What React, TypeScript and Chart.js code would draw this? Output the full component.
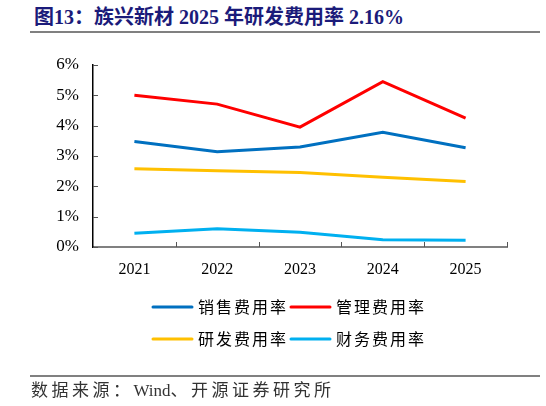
import React, { useEffect, useRef } from "react";
import { Chart, registerables } from "chart.js";

Chart.register(...registerables);

const categories = ["2021", "2022", "2023", "2024", "2025"];
const salesRate = [3.48, 3.14, 3.30, 3.78, 3.27];
const adminRate = [5.0, 4.71, 3.95, 5.45, 4.25];
const rdRate = [2.58, 2.51, 2.46, 2.30, 2.16];
const financeRate = [0.45, 0.60, 0.49, 0.24, 0.22];
const seriesNames = ["销售费用率", "管理费用率", "研发费用率", "财务费用率"];
const yTicks = [0, 1, 2, 3, 4, 5, 6];

const titleText = "图13：族兴新材 2025 年研发费用率 2.16%";
const sourceParts = ["数据来源：", "Wind", "、开源证券研究所"];

const serif = '"Liberation Serif", "Times New Roman", "Noto Sans CJK SC", serif';
const cjk = '"Noto Sans CJK SC", "Liberation Serif", serif';

const innerTicks = {
  id: "innerTicks",
  afterDatasetsDraw(chart: any) {
    const { ctx, chartArea, scales } = chart;
    ctx.save();
    ctx.strokeStyle = "#555";
    ctx.lineWidth = 1;
    const y = scales.y;
    y.ticks.forEach((t: any) => {
      const py = Math.round(y.getPixelForValue(t.value)) + 0.5;
      ctx.beginPath();
      ctx.moveTo(chartArea.left, py);
      ctx.lineTo(chartArea.left + 5, py);
      ctx.stroke();
    });
    const n = categories.length;
    const step = (chartArea.right - chartArea.left) / n;
    for (let i = 1; i <= n; i++) {
      const px = Math.round(chartArea.left + step * i) + 0.5;
      ctx.beginPath();
      ctx.moveTo(px, chartArea.bottom);
      ctx.lineTo(px, chartArea.bottom - 5);
      ctx.stroke();
    }
    ctx.restore();
  },
};

const customLegend = {
  id: "customLegend",
  afterDraw(chart: any) {
    const { ctx, chartArea } = chart;
    const ds = chart.data.datasets;
    const rows = [chartArea.bottom + 60, chartArea.bottom + 92];
    const cols = [chartArea.left + 60, chartArea.left + 198];
    ctx.save();
    ctx.font = `16px ${cjk}`;
    ctx.textBaseline = "middle";
    ctx.fillStyle = "#000";
    try {
      (ctx as any).letterSpacing = "2px";
    } catch (e) {}
    ds.forEach((d: any, i: number) => {
      const r = Math.floor(i / 2);
      const c = i % 2;
      const x0 = cols[c];
      const y0 = rows[r];
      ctx.strokeStyle = d.borderColor;
      ctx.lineWidth = 3;
      ctx.lineCap = "round";
      ctx.beginPath();
      ctx.moveTo(x0, y0);
      ctx.lineTo(x0 + 39, y0);
      ctx.stroke();
      ctx.fillText(d.label, x0 + 45, y0);
    });
    ctx.restore();
  },
};

export default function App() {
  const ref = useRef<HTMLCanvasElement>(null);
  useEffect(() => {
    if (!ref.current) return;
    const chart = new Chart(ref.current, {
      type: "line",
      data: {
        labels: categories,
        datasets: [
          { label: seriesNames[0], data: salesRate, borderColor: "#0070C0" },
          { label: seriesNames[1], data: adminRate, borderColor: "#FF0000" },
          { label: seriesNames[2], data: rdRate, borderColor: "#FFC000" },
          { label: seriesNames[3], data: financeRate, borderColor: "#00B0F0" },
        ].map((d) => ({
          ...d,
          backgroundColor: d.borderColor,
          borderWidth: 3,
          pointRadius: 0,
          tension: 0,
          fill: false,
        })),
      },
      options: {
        animation: false,
        responsive: false,
        devicePixelRatio: 1,
        layout: { padding: { left: 0, right: 39, top: 65, bottom: 119 } },
        plugins: { legend: { display: false }, tooltip: { enabled: false }, title: { display: false } },
        scales: {
          x: {
            offset: true,
            grid: { display: false, drawTicks: false },
            border: { display: true, color: "#808080", width: 2 },
            ticks: { color: "#000", font: { family: serif, size: 16 }, padding: 13, maxRotation: 0 },
            afterFit: (s: any) => {
              s.height = 40;
            },
          },
          y: {
            min: 0,
            max: 6,
            afterBuildTicks: (s: any) => {
              s.ticks = yTicks.map((v) => ({ value: v }));
            },
            grid: { display: false, drawTicks: false },
            border: { display: true, color: "#000", width: 1.5 },
            ticks: {
              color: "#000",
              font: { family: serif, size: 17 },
              padding: 14,
              callback: (v: any) => `${v}%`,
            },
            afterFit: (s: any) => {
              s.width = 93;
            },
          },
        },
      },
      plugins: [innerTicks, customLegend],
    });
    return () => chart.destroy();
  }, []);

  return (
    <div style={{ position: "fixed", left: 0, top: 0, width: 546, height: 406, background: "#fff", overflow: "hidden" }}>
      <div
        style={{
          position: "absolute",
          left: 34,
          top: 5,
          fontFamily: '"Liberation Serif", "Noto Sans CJK SC", serif',
          fontWeight: "bold",
          fontSize: 20,
          lineHeight: "24px",
          color: "#1b1b7a",
          whiteSpace: "nowrap",
        }}
      >
        {titleText}
      </div>
      <div style={{ position: "absolute", left: 30, top: 31, width: 510, height: 2, background: "#808080" }} />
      <canvas ref={ref} width={546} height={406} style={{ position: "absolute", left: 0, top: 0, width: 546, height: 406 }} />
      <div style={{ position: "absolute", left: 30, top: 375, width: 510, height: 2, background: "#808080" }} />
      <div
        style={{
          position: "absolute",
          left: 31,
          top: 380,
          fontFamily: serif,
          fontSize: 17,
          lineHeight: "22px",
          color: "#333",
          whiteSpace: "nowrap",
        }}
      >
        <span style={{ letterSpacing: 3.5 }}>{sourceParts[0]}</span>
        <span>{sourceParts[1]}</span>
        <span style={{ letterSpacing: 3.5 }}>{sourceParts[2]}</span>
      </div>
    </div>
  );
}
